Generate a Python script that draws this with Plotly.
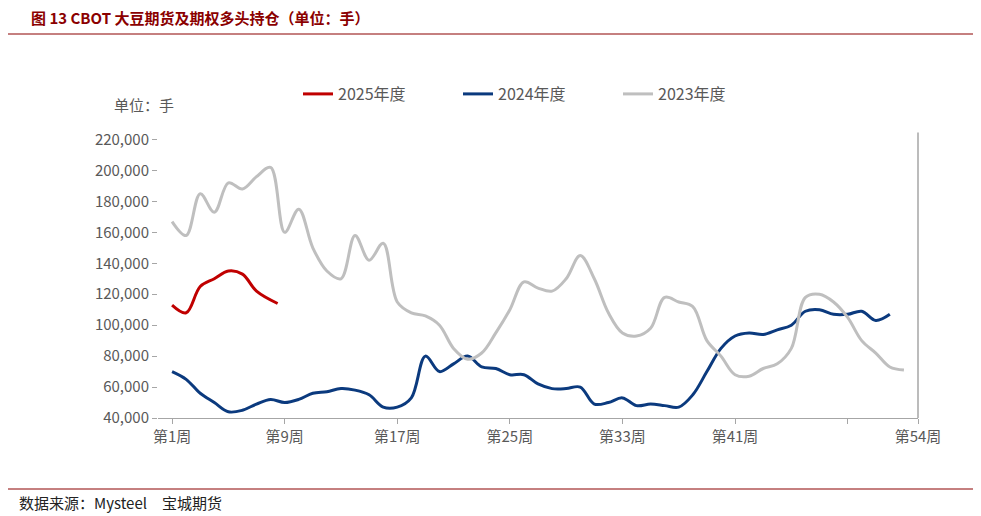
import plotly.graph_objects as go

weeks_2023 = list(range(1, 54))
vals_2023 = [167000, 158000, 185000, 173000, 192000, 188000, 196000, 202000, 160000, 175000,
             150000, 135000, 130000, 158000, 142000, 153000, 115000, 108000, 106000, 100000,
             85000, 78000, 82000, 95000, 110000, 128000, 124000, 122000, 130000, 145000,
             130000, 108000, 95000, 93000, 98000, 118000, 115000, 112000, 90000, 80000,
             68000, 67000, 72000, 75000, 85000, 118000, 120000, 115000, 105000, 90000,
             82000, 73000, 71000]

weeks_2024 = list(range(1, 53))
vals_2024 = [70000, 65000, 56000, 50000, 44000, 45000, 49000, 52000, 50000, 52000,
             56000, 57000, 59000, 58000, 55000, 47000, 47000, 53000, 80000, 70000,
             75000, 80000, 73000, 72000, 68000, 68000, 62000, 59000, 59000, 60000,
             49000, 50000, 53000, 48000, 49000, 48000, 47000, 55000, 70000, 85000,
             93000, 95000, 94000, 97000, 100000, 109000, 110000, 107000, 107000, 109000,
             103000, 107000]

weeks_2025 = [1, 2, 3, 4, 5, 6, 7, 8.5]
vals_2025 = [113000, 108000, 125000, 130000, 135000, 133000, 122000, 114000]

tick_weeks = [1, 9, 17, 25, 33, 41, 49, 54]
tick_text = ["第1周", "第9周", "第17周", "第25周", "第33周", "第41周", "", "第54周"]

fig = go.Figure()
fig.add_trace(go.Scatter(x=weeks_2025, y=vals_2025, name="2025年度", mode="lines",
                         line=dict(color="#C00000", width=3, shape="spline")))
fig.add_trace(go.Scatter(x=weeks_2024, y=vals_2024, name="2024年度", mode="lines",
                         line=dict(color="#0B3A7E", width=3, shape="spline")))
fig.add_trace(go.Scatter(x=weeks_2023, y=vals_2023, name="2023年度", mode="lines",
                         line=dict(color="#BFBFBF", width=3, shape="spline")))

font = "Noto Sans CJK SC"
T, B = 130, 106
H = 516 - T - B
fig.update_layout(
    width=981, height=516, paper_bgcolor="white", plot_bgcolor="white",
    margin=dict(l=150, r=71, t=T, b=B),
    font=dict(family=font, color="#595959", size=15),
    legend=dict(orientation="h", x=0.5, xanchor="center", y=(516 - 62 - T) / H + 0.0,
                yanchor="middle", bgcolor="rgba(0,0,0,0)", font=dict(size=16), entrywidth=115),
    showlegend=True,
)
fig.update_xaxes(range=[0, 54], tickvals=tick_weeks, ticktext=tick_text, showgrid=False,
                 showline=True, linecolor="#A6A6A6", ticks="outside", tickcolor="#A6A6A6",
                 zeroline=False)
fig.update_yaxes(range=[40000, 221000], tickvals=list(range(40000, 220001, 20000)),
                 tickformat=",", showgrid=False, showline=False, ticks="outside",
                 tickcolor="#A6A6A6", zeroline=False)
x0 = -150 / 760
x1 = (981 - 150) / 760
fig.update_layout(
    shapes=[
        dict(type="line", xref="paper", yref="paper", x0=1, x1=1, y0=0, y1=1.02,
             line=dict(color="#A6A6A6", width=1.5)),
        dict(type="line", xref="paper", yref="paper", x0=x0, x1=x1,
             y0=(516 - 26 - B) / H, y1=(516 - 26 - B) / H,
             line=dict(color="#8B0000", width=1)),
        dict(type="line", xref="paper", yref="paper", x0=x0, x1=x1,
             y0=-(481 - (516 - B)) / H, y1=-(481 - (516 - B)) / H,
             line=dict(color="#8B0000", width=1)),
    ],
    annotations=[
        dict(text="<b>图 13 CBOT 大豆期货及期权多头持仓（单位：手）</b>", xref="paper", yref="paper",
             x=-0.17, y=(516 - 10 - B) / H, xanchor="left", yanchor="middle", showarrow=False,
             font=dict(size=15, color="#8B0000", family=font)),
        dict(text="单位：手", xref="paper", yref="paper", x=-0.06, y=(516 - 96 - B) / H,
             xanchor="left", yanchor="middle", showarrow=False, font=dict(size=15, color="#595959")),
        dict(text="数据来源：Mysteel　宝城期货", xref="paper", yref="paper",
             x=-0.185, y=-(494 - (516 - B)) / H, xanchor="left", yanchor="middle", showarrow=False,
             font=dict(size=15, color="#222222")),
    ],
)
fig.write_html("out.html")
